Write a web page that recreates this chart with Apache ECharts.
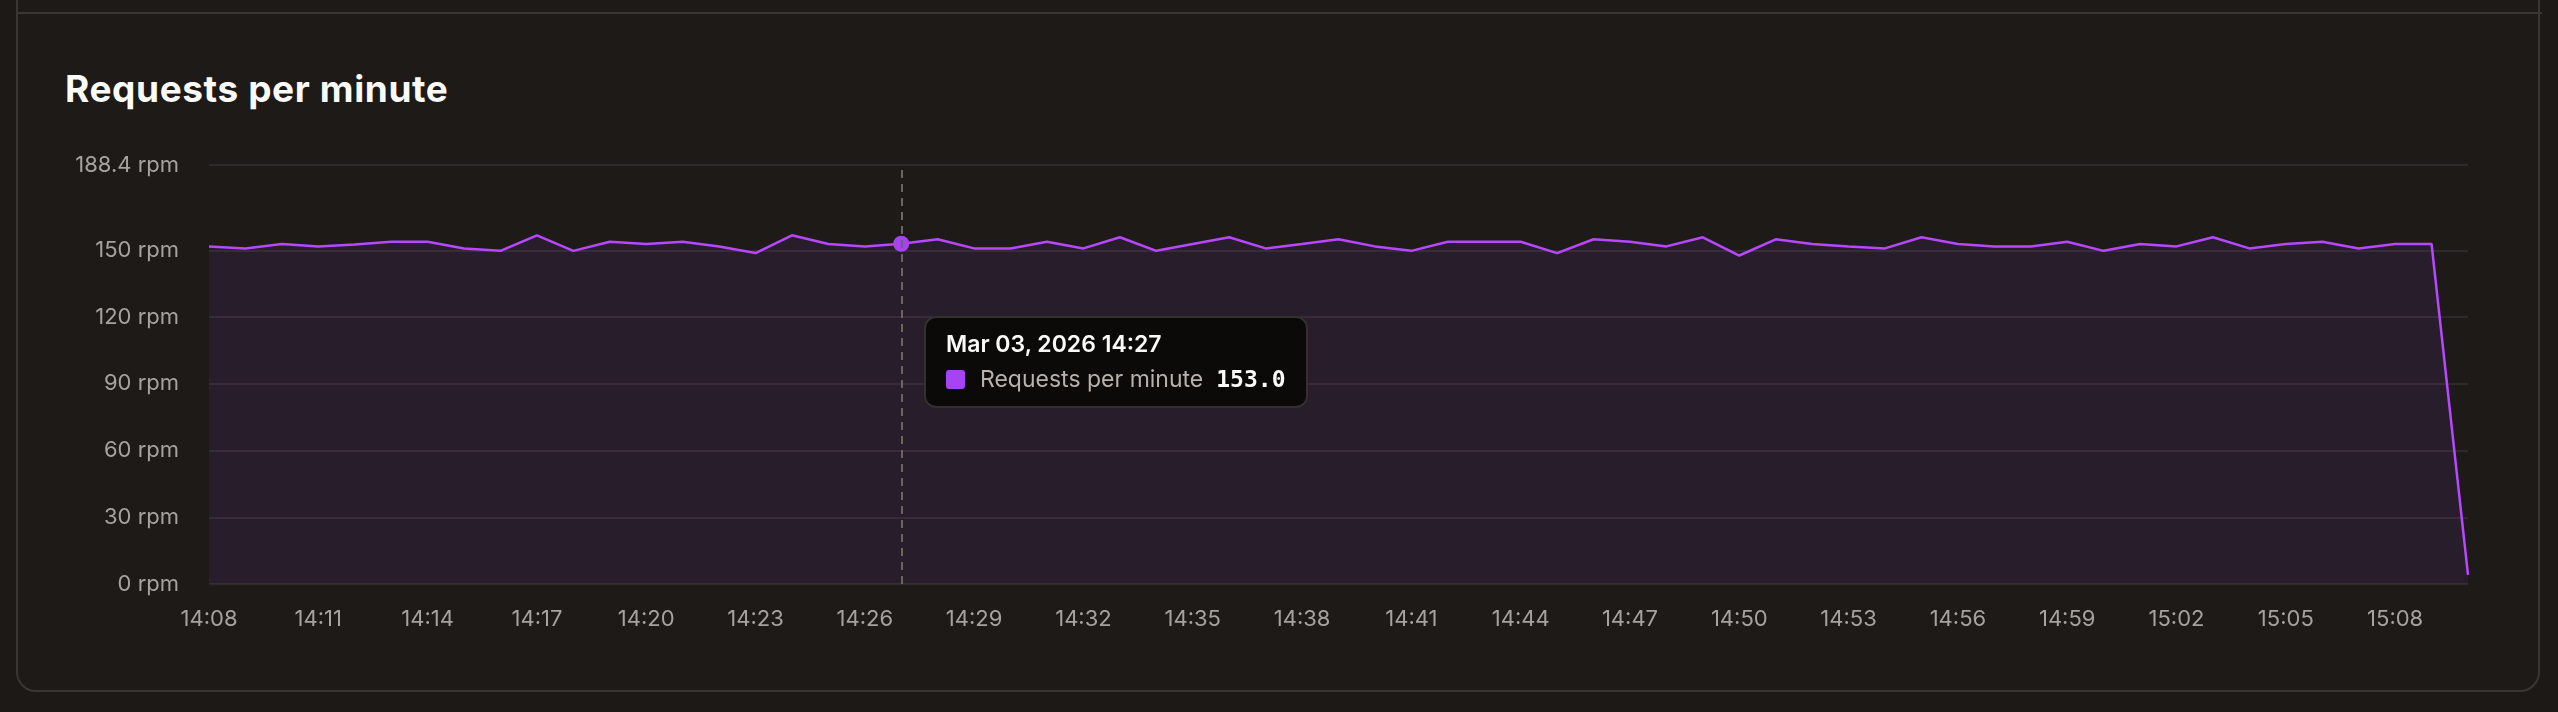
<!DOCTYPE html>
<html><head><meta charset="utf-8">
<script src="https://cdn.jsdelivr.net/npm/echarts@6/dist/echarts.min.js"></script>
<style>
html,body{margin:0;padding:0;background:#1c1917;width:2558px;height:712px;overflow:hidden;font-family:Inter,sans-serif}
#card{position:absolute;left:16px;top:-60px;width:2524px;height:752px;border:2px solid #3a3633;border-radius:20px;box-sizing:border-box;background:#1d1a17}
#sep{position:absolute;left:16px;top:12px;width:2526px;height:2px;background:#3a3633}
#title{position:absolute;left:65px;top:66px;font-size:37px;font-weight:700;color:#fafaf9;letter-spacing:0.6px}
#chart{position:absolute;left:0;top:0;width:2558px;height:712px}
</style></head><body>
<div id="card"></div><div id="sep"></div>
<div id="title">Requests per minute</div>
<div id="chart"></div>
<script>
const times = [];
for (let m = 8; m <= 70; m++) { const h = 14 + Math.floor(m/60), mm = m%60; times.push(h + ':' + String(mm).padStart(2,'0')); }
const values = [151.8,150.9,152.9,151.8,152.6,153.9,153.9,150.9,149.8,156.8,149.8,153.9,152.9,153.9,151.8,148.8,156.8,152.9,151.8,153.0,155.0,
150.9,150.9,153.9,150.9,155.9,149.8,152.9,155.9,150.9,152.9,155.0,151.8,149.8,153.9,153.9,153.9,148.8,155.0,153.9,151.8,155.9,147.7,
155.0,152.9,151.8,150.9,155.9,152.9,151.8,151.8,153.9,149.8,152.9,151.8,155.9,150.9,152.9,153.9,150.9,152.9,152.9,4.1];
const yTicks = [0,30,60,90,120,150,188.4];
const seriesName = 'Requests per minute';
const tipDate = 'Mar 03, 2026';

const chart = echarts.init(document.getElementById('chart'));
chart.setOption({
  animation:false,
  grid:{left:209,right:90,top:165,bottom:128},
  tooltip:{trigger:'axis',alwaysShowContent:true,position:[924,316],
    backgroundColor:'#0c0a09',borderColor:'#33302d',borderWidth:2,padding:[16,20],
    extraCssText:'border-radius:12px;box-shadow:none;',
    axisPointer:{type:'line',lineStyle:{color:'#6b6461',type:[8,6],width:2}},
    formatter:p=>{const d=p[0];return '<div style="font-family:Inter;color:#fafaf9;font-weight:600;font-size:23px;margin-bottom:14px">'+tipDate+' '+d.name+'</div>'+
      '<div style="display:flex;align-items:center;font-family:Inter;font-size:23px"><span style="display:inline-block;width:19px;height:19px;border-radius:3px;background:#a742f5;margin-right:15px"></span><span style="color:#b8b2ad">'+seriesName+'</span><span style="margin-left:13px;color:#fafaf9;font-weight:700;font-family:\'DejaVu Sans Mono\',monospace;font-size:23px">'+d.value.toFixed(1)+'</span></div>';}},
  xAxis:{type:'category',data:times,boundaryGap:false,
    axisLine:{show:false},axisTick:{show:false},
    axisLabel:{interval:2,color:'#a8a29e',fontSize:22,fontFamily:'Inter',margin:24}},
  yAxis:{type:'value',min:0,max:188.4,
    axisLine:{show:false},axisTick:{show:false,customValues:yTicks},
    splitLine:{show:true,lineStyle:{color:'#2e2a29',width:2}},
    axisLabel:{customValues:yTicks,color:'#a8a29e',fontSize:22,fontFamily:'Inter',margin:30,formatter:v=>v+' rpm'}},
  series:[{name:seriesName,type:'line',data:values,symbol:'circle',symbolSize:16,showSymbol:false,
    lineStyle:{color:'#a742f5',width:2.5},itemStyle:{color:'#a742f5'},
    areaStyle:{color:'rgba(150,60,230,0.12)'},
    emphasis:{scale:1}}]
});
chart.dispatchAction({type:'showTip',seriesIndex:0,dataIndex:19});
</script></body></html>
